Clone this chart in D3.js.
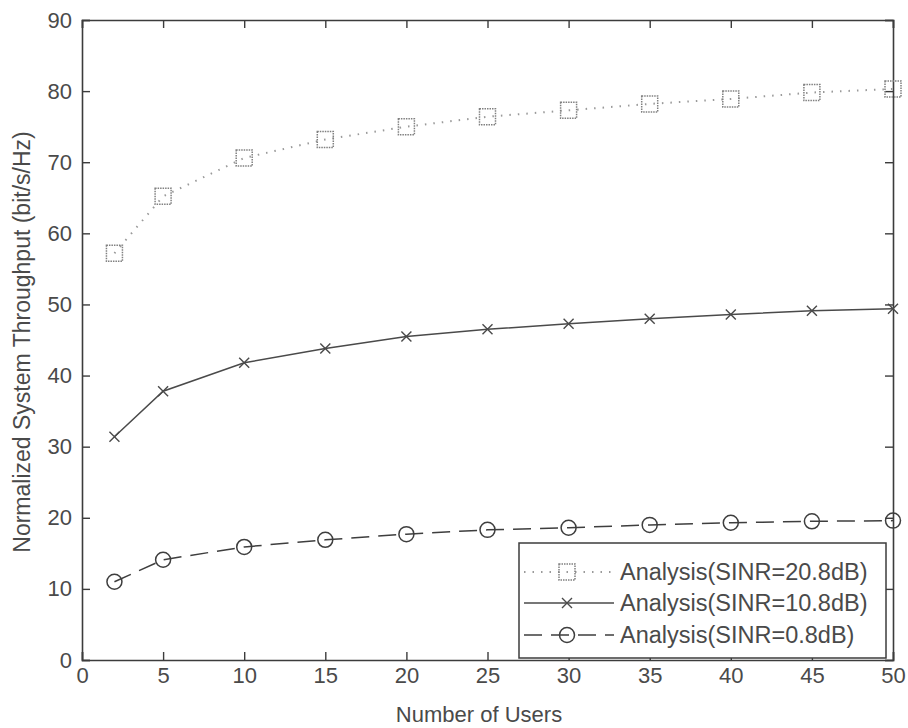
<!DOCTYPE html>
<html>
<head>
<meta charset="utf-8">
<script src="https://cdn.jsdelivr.net/npm/d3@7"></script>
<style>
  html, body { margin: 0; padding: 0; background: #fff; }
  svg { display: block; }
  text { font-family: "Liberation Sans", Arial, sans-serif; fill: #4a4a4a; }
</style>
</head>
<body>
<svg id="chart" width="908" height="728"></svg>
<script>
// Number of users on the x axis
const users = [2, 5, 10, 15, 20, 25, 30, 35, 40, 45, 50];

// Normalized system throughput (bit/s/Hz) per SINR setting
const sinr208 = [57.2, 65.2, 70.6, 73.2, 75.0, 76.4, 77.3, 78.2, 78.9, 79.8, 80.3];
const sinr108 = [31.4, 37.8, 41.8, 43.8, 45.5, 46.5, 47.3, 48.0, 48.6, 49.1, 49.4];
const sinr08  = [11.0, 14.1, 15.9, 16.9, 17.7, 18.3, 18.6, 19.0, 19.3, 19.5, 19.6];

const seriesNames = ["Analysis(SINR=20.8dB)", "Analysis(SINR=10.8dB)", "Analysis(SINR=0.8dB)"];

const xTicks = [0, 5, 10, 15, 20, 25, 30, 35, 40, 45, 50];
const yTicks = [0, 10, 20, 30, 40, 50, 60, 70, 80, 90];

const svg = d3.select("#chart");
const plotLeft = 82, plotRight = 893, plotTop = 20, plotBottom = 660;

const x = d3.scaleLinear().domain([0, 50]).range([plotLeft, plotRight]);
const y = d3.scaleLinear().domain([0, 90]).range([plotBottom, plotTop]);

const axisColor = "#3c3c3c";
const textColor = "#4a4a4a";
const fontSize = 22;

// Axes: ticks point inward, mirrored on top and right
const gx = svg.append("g").attr("transform", `translate(0,${plotBottom})`)
  .call(d3.axisBottom(x).tickValues(xTicks).tickSize(-8).tickPadding(6).tickFormat(d3.format("d")));
const gxTop = svg.append("g").attr("transform", `translate(0,${plotTop})`)
  .call(d3.axisTop(x).tickValues(xTicks).tickSize(-8).tickFormat(""));
const gy = svg.append("g").attr("transform", `translate(${plotLeft},0)`)
  .call(d3.axisLeft(y).tickValues(yTicks).tickSize(-8).tickPadding(10).tickFormat(d3.format("d")));
const gyRight = svg.append("g").attr("transform", `translate(${plotRight},0)`)
  .call(d3.axisRight(y).tickValues(yTicks).tickSize(-8).tickFormat(""));

[gx, gxTop, gy, gyRight].forEach(g => {
  g.select(".domain").attr("stroke", axisColor).attr("stroke-width", 1.6);
  g.selectAll(".tick line").attr("stroke", axisColor).attr("stroke-width", 1.4);
  g.selectAll(".tick text").attr("font-size", fontSize).attr("fill", textColor)
    .attr("font-family", "'Liberation Sans', Arial, sans-serif");
});
gx.selectAll(".tick text").attr("dy", "0.75em");

// Axis titles
svg.append("text")
  .attr("x", 479).attr("y", 722)
  .attr("text-anchor", "middle").attr("font-size", 22)
  .text("Number of Users");
svg.append("text")
  .attr("transform", `translate(30,342) rotate(-90)`)
  .attr("text-anchor", "middle").attr("font-size", 23)
  .text("Normalized System Throughput (bit/s/Hz)");

const line = d3.line().x((d, i) => x(users[i])).y(d => y(d));

// Series styles
const styles = [
  { data: sinr208, stroke: "#9a9a9a", width: 2, dash: "1.5,7", marker: "square" },
  { data: sinr108, stroke: "#4a4a4a", width: 1.5, dash: null, marker: "cross" },
  { data: sinr08,  stroke: "#3e3e3e", width: 1.5, dash: "18,9", marker: "circle" }
];

function drawMarker(g, type, cx, cy, color) {
  if (type === "square") {
    g.append("rect").attr("x", cx - 8).attr("y", cy - 8).attr("width", 16).attr("height", 16)
      .attr("fill", "none").attr("stroke", "#808080").attr("stroke-width", 1.5)
      .attr("stroke-dasharray", "1.5,1");
  } else if (type === "cross") {
    const s = 5;
    g.append("path").attr("d", `M${cx - s},${cy - s}L${cx + s},${cy + s}M${cx - s},${cy + s}L${cx + s},${cy - s}`)
      .attr("stroke", color).attr("stroke-width", 1.4).attr("fill", "none");
  } else {
    g.append("circle").attr("cx", cx).attr("cy", cy).attr("r", 7.5)
      .attr("fill", "none").attr("stroke", color).attr("stroke-width", 1.5);
  }
}

styles.forEach(s => {
  svg.append("path").datum(s.data)
    .attr("d", line).attr("fill", "none")
    .attr("stroke", s.stroke).attr("stroke-width", s.width)
    .attr("stroke-dasharray", s.dash);
  const mg = svg.append("g");
  s.data.forEach((v, i) => drawMarker(mg, s.marker, x(users[i]), y(v), s.stroke));
});

// Legend
const lg = svg.append("g");
lg.append("rect").attr("x", 519).attr("y", 543).attr("width", 367).attr("height", 115)
  .attr("fill", "#fff").attr("stroke", axisColor).attr("stroke-width", 1.5);
const rowY = [572, 603, 635];
styles.forEach((s, i) => {
  lg.append("line").attr("x1", 524).attr("x2", 614).attr("y1", rowY[i]).attr("y2", rowY[i])
    .attr("stroke", s.stroke).attr("stroke-width", s.width).attr("stroke-dasharray", s.dash);
  drawMarker(lg, s.marker, 567, rowY[i], s.stroke);
  lg.append("text").attr("x", 620).attr("y", rowY[i]).attr("dy", "0.36em")
    .attr("font-size", 23.5).text(seriesNames[i]);
});
</script>
</body>
</html>
